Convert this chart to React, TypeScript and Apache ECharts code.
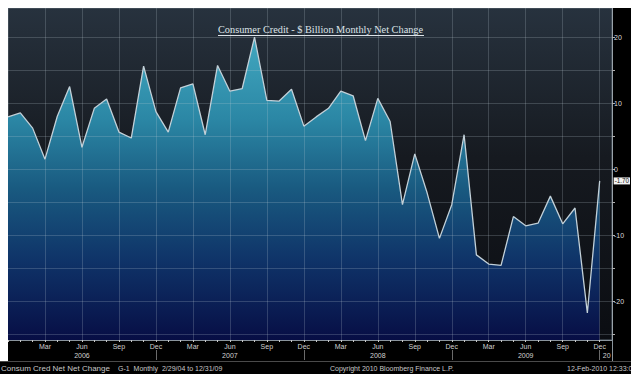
import { useEffect, useRef } from 'react';
import * as echarts from 'echarts';

const MONTHS = ['Jan', 'Feb', 'Mar', 'Apr', 'May', 'Jun', 'Jul', 'Aug', 'Sep', 'Oct', 'Nov', 'Dec'];
const YEARS = [2006, 2007, 2008, 2009];
const CATEGORIES = ['Dec 2005', ...YEARS.flatMap((y) => MONTHS.map((m) => `${m} ${y}`)), 'Jan 2010'];

// Consumer credit, $ billion monthly net change, Dec 2005 .. Dec 2009
const VALUES = [
  8.0, 8.6, 6.3, 1.6, 8.1, 12.6, 3.4, 9.3, 10.7, 5.7, 4.8, 15.7, 8.8,
  5.7, 12.4, 13.0, 5.3, 15.8, 11.9, 12.3, 20.1, 10.5, 10.4, 12.2, 6.6,
  8.0, 9.3, 11.9, 11.2, 4.4, 10.8, 7.3, -5.3, 2.4, -3.5, -10.4, -5.3,
  5.3, -12.9, -14.3, -14.5, -7.1, -8.5, -8.1, -4.0, -8.2, -5.8, -21.7, -1.7,
];

const QUARTER_MONTHS = ['Mar', 'Jun', 'Sep', 'Dec'];
const Y_LABELS = [-20, -10, 0, 10, 20];
const Y_TICKS = [-25, -20, -15, -10, -5, 0, 5, 10, 15, 20];

const TITLE = 'Consumer Credit - $ Billion Monthly Net Change';
const FOOTER_LEFT = 'Consum Cred Net Net Change';
const FOOTER_MID = 'G-1  Monthly  2/29/04 to 12/31/09';
const FOOTER_COPY = 'Copyright 2010 Bloomberg Finance L.P.';
const FOOTER_DATE = '12-Feb-2010 12:33:0';

const monthOf = (v: string) => v.split(' ')[0];
const yearOf = (v: string) => v.split(' ')[1];

export default function App() {
  const ref = useRef<HTMLDivElement>(null);

  useEffect(() => {
    document.body.style.margin = '0';
    if (!ref.current) return;
    const chart = echarts.init(ref.current, null, { renderer: 'svg' });
    const sans = 'Liberation Sans';
    const gridColor = 'rgba(190,205,215,0.22)';
    const isQuarter = (i: number, v: string) => i > 0 && QUARTER_MONTHS.includes(monthOf(v));

    chart.setOption({
      animation: false,
      backgroundColor: '#000000',
      title: {
        text: TITLE,
        left: 218,
        top: 24,
        padding: 0,
        textStyle: {
          fontFamily: 'Liberation Serif',
          fontSize: 10.3,
          fontWeight: 'normal',
          color: '#dde3e8',
        },
      },
      grid: {
        left: 8,
        right: 19,
        top: 8,
        bottom: 34,
        show: true,
        borderColor: '#5a6670',
        borderWidth: 1,
        backgroundColor: new echarts.graphic.LinearGradient(0, 0, 0, 1, [
          { offset: 0, color: '#27323e' },
          { offset: 0.45, color: '#161a20' },
          { offset: 1, color: '#0b0d12' },
        ]),
      },
      xAxis: [
        {
          type: 'category',
          data: CATEGORIES,
          boundaryGap: false,
          position: 'bottom',
          z: 3,
          axisLine: { show: true, onZero: false, lineStyle: { color: '#8a949c', width: 1 } },
          axisTick: { show: true, length: 2, interval: 0, lineStyle: { color: '#c8c8c8' } },
          axisLabel: {
            interval: isQuarter,
            formatter: (v: string) => monthOf(v),
            fontFamily: sans,
            fontSize: 7,
            color: '#d0d0d0',
            margin: 3,
          },
          splitLine: {
            show: true,
            interval: isQuarter,
            lineStyle: { color: gridColor, width: 1 },
          },
        },
        {
          type: 'category',
          data: CATEGORIES,
          boundaryGap: false,
          position: 'bottom',
          offset: 10,
          z: 3,
          axisLine: { show: false, onZero: false },
          axisTick: {
            show: true,
            length: 10,
            interval: (i: number, v: string) => i > 0 && monthOf(v) === 'Dec',
            lineStyle: { color: '#6a6a6a' },
          },
          axisLabel: {
            interval: (_i: number, v: string) => monthOf(v) === 'Jun' || v === 'Dec 2009',
            formatter: (v: string) => (monthOf(v) === 'Jun' ? yearOf(v) : '{e|20}'),
            rich: { e: { padding: [0, 0, 0, 14], fontSize: 7, color: '#d0d0d0', fontFamily: sans } },
            fontFamily: sans,
            fontSize: 7,
            color: '#d0d0d0',
            margin: 2,
          },
          splitLine: { show: false },
        },
      ],
      yAxis: {
        type: 'value',
        position: 'right',
        min: -25.8,
        max: 24.5,
        z: 3,
        axisLine: { show: true, lineStyle: { color: '#9aa3aa', width: 1 } },
        axisTick: { show: true, length: 3, customValues: Y_TICKS, lineStyle: { color: '#b0b0b0' } },
        axisLabel: {
          customValues: Y_LABELS,
          fontFamily: sans,
          fontSize: 7,
          color: '#dcdcdc',
          margin: 2,
        },
        splitLine: { show: true, lineStyle: { color: gridColor, width: 1 } },
      },
      series: [
        {
          type: 'line',
          data: VALUES,
          symbol: 'none',
          z: 2,
          lineStyle: { color: '#c2d0d8', width: 1.3 },
          areaStyle: {
            origin: 'start',
            opacity: 1,
            color: new echarts.graphic.LinearGradient(0, 0, 0, 1, [
              { offset: 0, color: '#42a8c0' },
              { offset: 0.27, color: '#2b87a5' },
              { offset: 0.5, color: '#195a80' },
              { offset: 0.74, color: '#0f3368' },
              { offset: 1, color: '#070e45' },
            ]),
          },
          endLabel: {
            show: true,
            formatter: (p: any) => Number(p.value).toFixed(2),
            distance: 14,
            backgroundColor: '#f2f2f2',
            color: '#111111',
            fontFamily: sans,
            fontSize: 6.3,
            padding: [1, 1, 0, 1],
          },
        },
      ],
      graphic: [
        { type: 'rect', shape: { x: 0, y: 0, width: 631, height: 8 }, style: { fill: '#ffffff' }, z: 10 },
        { type: 'rect', shape: { x: 0, y: 0, width: 8, height: 361 }, style: { fill: '#ffffff' }, z: 10 },
        {
          type: 'line',
          shape: { x1: 218, y1: 35.5, x2: 424, y2: 35.5 },
          style: { stroke: '#dde3e8', lineWidth: 1 },
          z: 10,
        },
        {
          type: 'line',
          shape: { x1: 612.5, y1: 340, x2: 612.5, y2: 361 },
          style: { stroke: '#8a949c', lineWidth: 1 },
          z: 10,
        },
        {
          type: 'line',
          shape: { x1: 0, y1: 361.5, x2: 631, y2: 361.5 },
          style: { stroke: '#4a4a4a', lineWidth: 1 },
          z: 10,
        },
        {
          type: 'text',
          x: 1,
          y: 368,
          z: 10,
          style: { text: FOOTER_LEFT, fill: '#c8c8c8', font: `8px "${sans}"`, verticalAlign: 'middle' },
        },
        {
          type: 'text',
          x: 118,
          y: 368,
          z: 10,
          style: { text: FOOTER_MID, fill: '#c8c8c8', font: `7px "${sans}"`, verticalAlign: 'middle' },
        },
        {
          type: 'text',
          x: 330,
          y: 368,
          z: 10,
          style: { text: FOOTER_COPY, fill: '#c8c8c8', font: `7px "${sans}"`, verticalAlign: 'middle' },
        },
        {
          type: 'text',
          x: 567,
          y: 368,
          z: 10,
          style: { text: FOOTER_DATE, fill: '#c8c8c8', font: `7px "${sans}"`, verticalAlign: 'middle' },
        },
      ],
    });

    return () => chart.dispose();
  }, []);

  return <div ref={ref} style={{ width: 631, height: 374 }} />;
}
